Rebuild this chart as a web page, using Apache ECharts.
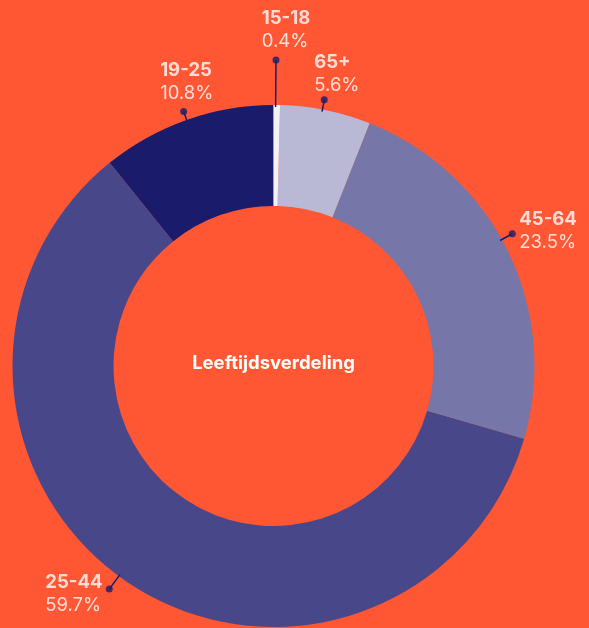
<!DOCTYPE html>
<html>
<head>
<meta charset="utf-8">
<script src="https://cdn.jsdelivr.net/npm/echarts@6/dist/echarts.min.js"></script>
<style>
html,body{margin:0;padding:0;background:#ff5733;}
#chart{width:589px;height:628px;}
</style>
</head>
<body>
<div id="chart"></div>
<script>
// age groups, drawn counter-clockwise from 12 o'clock
var categories = ['19-25', '25-44', '45-64', '65+', '15-18'];
var shares = [10.8, 59.7, 23.5, 5.6, 0.4];
var title = 'Leeftijdsverdeling';

var sliceColors = ['#1b1b6b', '#47478a', '#7676a8', '#b9b9d6', '#f2f2f7'];
var navy = '#1b1b6b';
var center = [273.5, 366];
var innerR = 160, outerR = 261;
// leader line layout: end radius (px), small angular nudge (in % of circle), label box offset from the dot
var leaderEnd = [270, 277, 273, 271, 306];
var leaderNudge = [0, -0.75, 0.8, 0.2, 0.07];
var labelPos = [[-20, -49], [-60.5, -15], [10.5, -22.5], [-6.5, -45.5], [-10.8, -50]];

var mids = [];
var acc = 0;
for (var i = 0; i < shares.length; i++) {
	mids.push(acc + shares[i] / 2 + leaderNudge[i]);
	acc += shares[i];
}

var pieData = categories.map(function (c, i) {
	return { name: c, value: shares[i], itemStyle: { color: sliceColors[i] } };
});

var dotData = categories.map(function (c, i) {
	return {
		name: c,
		value: [leaderEnd[i], mids[i]],
		label: { position: labelPos[i] }
	};
});

var series = [{
	type: 'pie',
	center: center,
	radius: [innerR, outerR],
	startAngle: 90,
	clockwise: false,
	label: { show: false },
	labelLine: { show: false },
	emphasis: { disabled: true },
	silent: true,
	data: pieData
}];

for (var k = 0; k < categories.length; k++) {
	series.push({
		type: 'line',
		coordinateSystem: 'polar',
		symbol: 'none',
		silent: true,
		z: 5,
		lineStyle: { color: navy, width: 1.5 },
		data: [[outerR - 2, mids[k]], [leaderEnd[k], mids[k]]]
	});
}

series.push({
	type: 'scatter',
	coordinateSystem: 'polar',
	symbol: 'circle',
	symbolSize: 7,
	silent: true,
	z: 6,
	itemStyle: { color: navy },
	label: {
		show: true,
		align: 'left',
		verticalAlign: 'top',
		formatter: function (p) {
			return '{n|' + p.name + '}\n{v|' + shares[p.dataIndex].toFixed(1) + '%}';
		},
		rich: {
			n: { fontFamily: 'Inter', fontSize: 18.5, fontWeight: 700, color: '#ffffff', lineHeight: 23 },
			v: { fontFamily: 'Inter', fontSize: 18.5, fontWeight: 400, color: '#ffffff', lineHeight: 23 }
		}
	},
	data: dotData
});

var chart = echarts.init(document.getElementById('chart'));
chart.setOption({
	backgroundColor: '#ff5733',
	animation: false,
	title: {
		text: title,
		left: center[0],
		top: 354,
		padding: 0,
		textAlign: 'center',
		textStyle: { fontFamily: 'Inter', fontSize: 18.5, fontWeight: 700, color: '#ffffff' }
	},
	polar: { center: center, radius: 350 },
	radiusAxis: { type: 'value', min: 0, max: 350, show: false },
	angleAxis: { type: 'value', min: 0, max: 100, startAngle: 90, clockwise: false, show: false },
	series: series
});
</script>
</body>
</html>
